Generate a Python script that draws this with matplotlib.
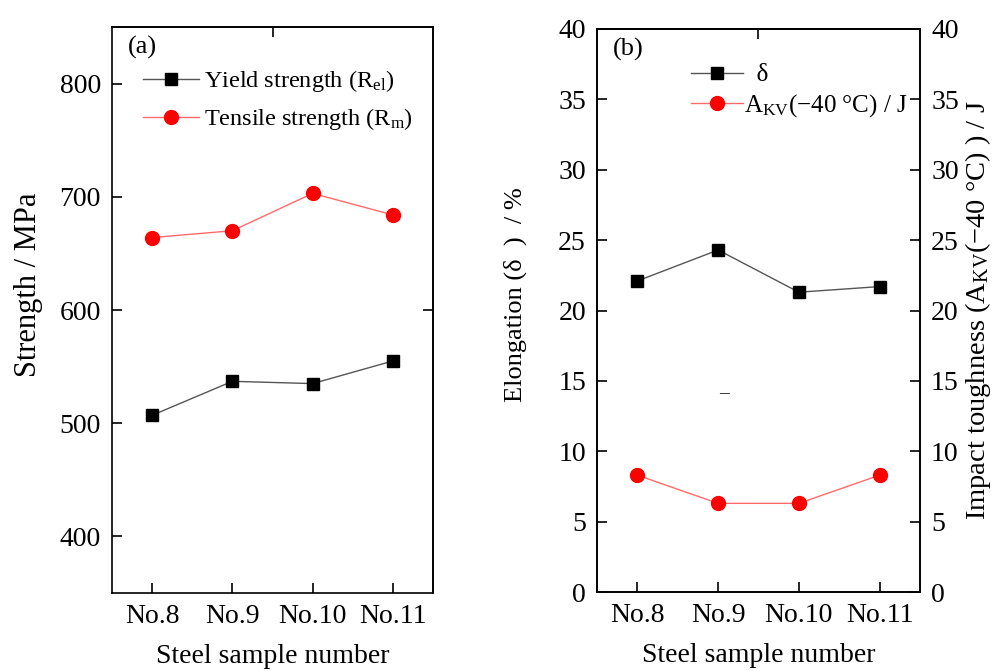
import matplotlib
matplotlib.use('Agg')
import matplotlib.pyplot as plt

# ===== データ =====
samples = ['No.8', 'No.9', 'No.10', 'No.11']
yield_mpa = [507, 537, 535, 555]        # Rel
tensile_mpa = [664, 670, 703, 684]      # Rm
elong_pct = [22.1, 24.3, 21.3, 21.7]    # δ
akv_j = [8.3, 6.3, 6.3, 8.3]            # AKV(-40 °C)

strength_ticks = [400, 500, 600, 700, 800]
right_ticks = [0, 5, 10, 15, 20, 25, 30, 35, 40]

plt.rcParams['font.family'] = ['Liberation Serif', 'DejaVu Serif']
plt.rcParams['mathtext.fontset'] = 'custom'
plt.rcParams['mathtext.rm'] = 'Liberation Serif'
plt.rcParams['mathtext.it'] = 'Liberation Serif'
plt.rcParams['font.size'] = 19
plt.rcParams['axes.linewidth'] = 1.2

BLK_LINE = '#555555'
RED = '#ff0000'
RED_LINE = '#ff6a6a'
TICK_FS = 20

fig = plt.figure(figsize=(9.98, 6.71), dpi=100)
ax1 = fig.add_axes([0.1122, 0.1162, 0.3217, 0.8436])
ax2 = fig.add_axes([0.5982, 0.1177, 0.3236, 0.8391])

x = list(range(len(samples)))

def style_ticks(ax):
    ax.tick_params(direction='in', length=7, width=1.2, labelsize=TICK_FS, pad=8)

# ----- (a) 強度 -----
ax1.plot(x, yield_mpa, '-', color=BLK_LINE, lw=1.0, marker='s', ms=9,
         mfc='black', mec='black', label='Yield strength (R$_{\\rm el}$)')
ax1.plot(x, tensile_mpa, '-', color=RED_LINE, lw=1.0, marker='o', ms=10,
         mfc=RED, mec=RED, label='Tensile strength (R$_{\\rm m}$)')
ax1.set_xlim(-0.5, 3.5)
ax1.set_ylim(350, 850)
ax1.set_xticks(x)
ax1.set_xticklabels(samples)
ax1.set_yticks(strength_ticks)
style_ticks(ax1)
ax1.set_ylabel('Strength / MPa', fontsize=22)
ax1.yaxis.set_label_coords(-0.215, 0.544)
ax1.set_xlabel('Steel sample number', fontsize=20, labelpad=11)
ax1.text(0.05, 0.963, '(a)', transform=ax1.transAxes, fontsize=19, va='center')
ax1.legend(loc='upper left', bbox_to_anchor=(0.03, 0.966), frameon=False,
           fontsize=17.5, handlelength=2.3, handletextpad=0.2, labelspacing=0.5)
top1 = ax1.secondary_xaxis('top')
top1.set_xticks([1.5])
top1.tick_params(direction='in', length=7, width=1.2, labeltop=False)
right1 = ax1.secondary_yaxis('right')
right1.set_yticks([600])
right1.tick_params(direction='in', length=7, width=1.2, labelright=False)

# ----- (b) 伸び / 衝撃値 -----
ax2.plot(x, elong_pct, '-', color=BLK_LINE, lw=1.0, marker='s', ms=9,
         mfc='black', mec='black', label='  δ')
ax2.plot(x, akv_j, '-', color=RED_LINE, lw=1.0, marker='o', ms=10,
         mfc=RED, mec=RED, label='A$_{\\rm KV}$(−40 °C) / J')
ax2.set_xlim(-0.5, 3.5)
ax2.set_ylim(0, 40)
ax2.set_xticks(x)
ax2.set_xticklabels(samples)
ax2.set_yticks(right_ticks)
style_ticks(ax2)
ax2.set_ylabel('Elongation (δ  )  / %', fontsize=19)
ax2.yaxis.set_label_coords(-0.217, 0.529)
ax2.set_xlabel('Steel sample number', fontsize=20, labelpad=11)
ax2.text(0.05, 0.963, '(b)', transform=ax2.transAxes, fontsize=19, va='center')
ax2.text(1.07, 14.1, '–', fontsize=14, ha='center', va='center')
ax2.legend(loc='upper left', bbox_to_anchor=(0.22, 0.978), frameon=False,
           fontsize=18, handlelength=2.1, handletextpad=0.05, labelspacing=0.25)
top2 = ax2.secondary_xaxis('top')
top2.set_xticks([1.5])
top2.tick_params(direction='in', length=7, width=1.2, labeltop=False)

ax3 = ax2.twinx()
ax3.set_ylim(0, 40)
ax3.set_yticks(right_ticks)
ax3.tick_params(direction='in', length=7, width=1.2, labelsize=TICK_FS, pad=8)
ax3.set_ylabel('Impact toughness (A$_{\\rm KV}$(−40 °C) ) / J', fontsize=20.5, labelpad=3)

fig.savefig('out.png', dpi=100)
